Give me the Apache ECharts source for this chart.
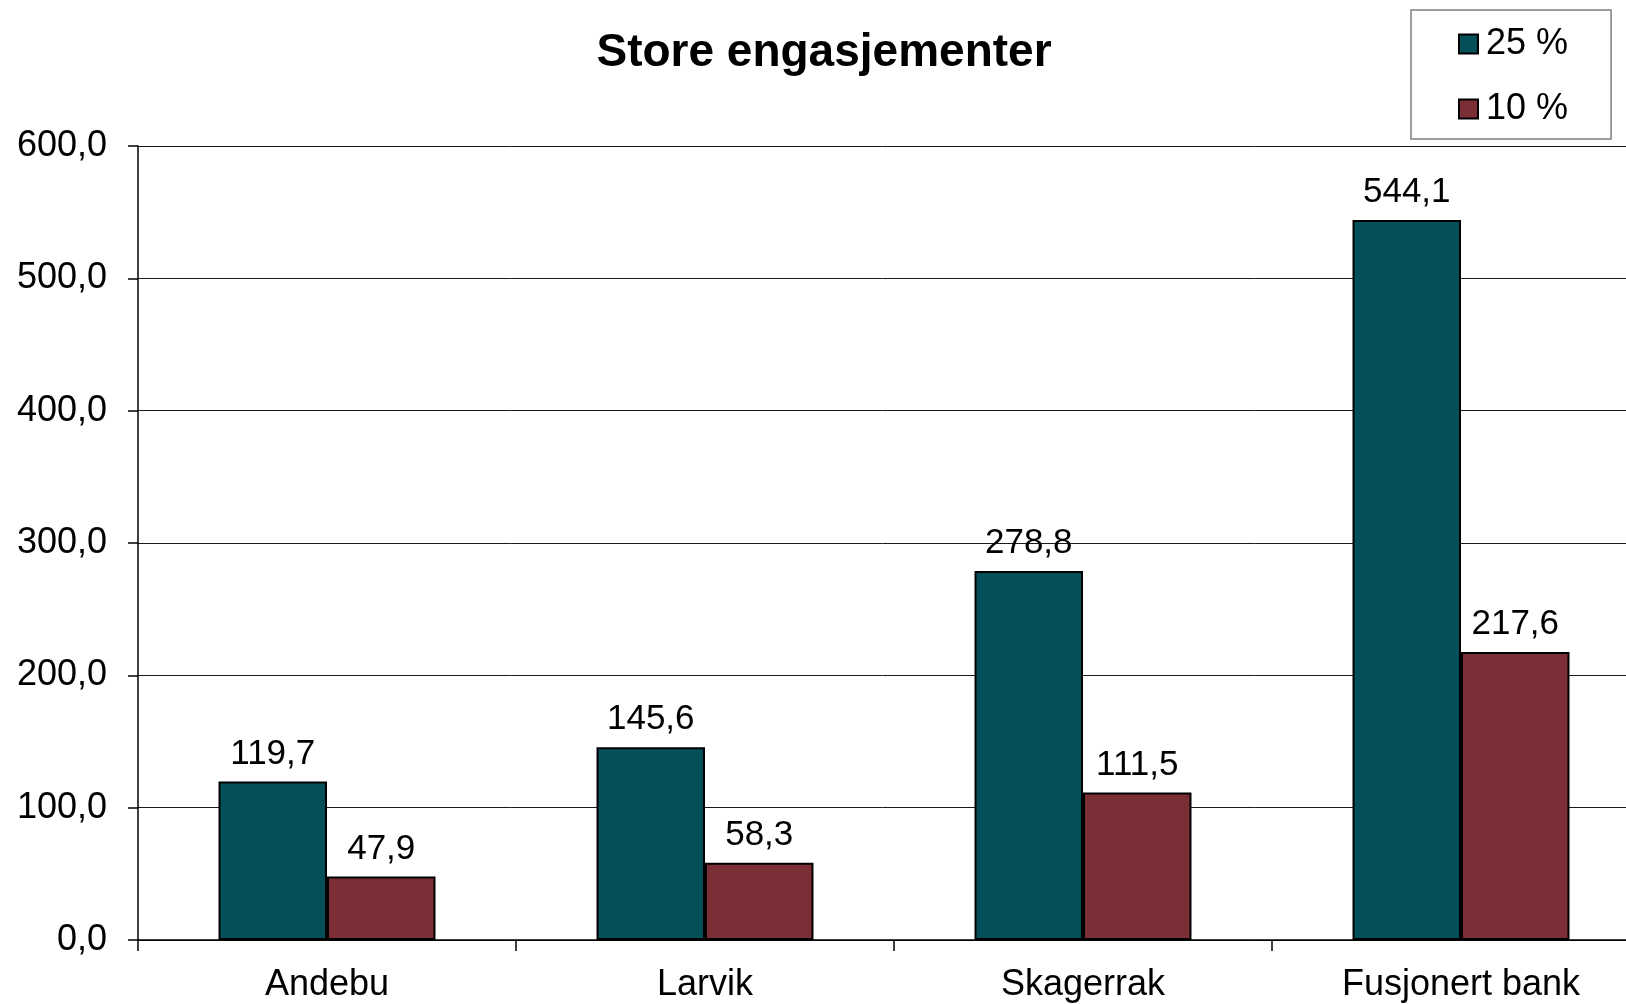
<!DOCTYPE html>
<html>
<head>
    <meta charset="utf-8">
    <title>Store engasjementer</title>
    <script src="https://cdn.jsdelivr.net/npm/echarts@6/dist/echarts.min.js"></script>
    <style>
        html, body { margin: 0; padding: 0; background: #fff; }
    </style>
</head>
<body>
<div id="main" style="width: 1626px;height:1004px;"></div>

<script type="text/javascript">
    // data
    var categories = ['Andebu', 'Larvik', 'Skagerrak', 'Fusjonert bank'];
    var seriesNames = ['25 %', '10 %'];
    var values25 = [119.7, 145.6, 278.8, 544.1];
    var values10 = [47.9, 58.3, 111.5, 217.6];
    var yTicks = [0, 100, 200, 300, 400, 500, 600];

    function komma(v) {
        return Number(v).toFixed(1).replace('.', ',');
    }

    var font = 'Liberation Sans, Arial, sans-serif';
    var myChart = echarts.init(document.getElementById('main'));

    var labelStyle = {
        show: true,
        position: 'top',
        distance: 10,
        color: '#000',
        fontSize: 35,
        fontFamily: font,
        formatter: function (p) { return komma(p.value); }
    };

    var option = {
        animation: false,
        backgroundColor: '#fff',
        title: {
            text: 'Store engasjementer',
            left: 819,
            textAlign: 'center',
            top: 25,
            textStyle: {
                fontSize: 46,
                fontWeight: 'bold',
                fontFamily: font,
                color: '#000'
            }
        },
        legend: {
            data: seriesNames,
            orient: 'vertical',
            left: 1411,
            top: 10,
            padding: [16, 43, 12, 47],
            itemWidth: 19,
            itemHeight: 19,
            itemGap: 29,
            icon: 'rect',
            borderColor: '#7f7f7f',
            borderWidth: 1.5,
            textStyle: {
                fontSize: 36,
                fontFamily: font,
                color: '#000',
                padding: [0, 0, 0, 3]
            }
        },
        // the plot runs past the right edge of the picture, as in the original
        grid: {
            left: 138,
            width: 1512,
            top: 146,
            bottom: 64,
            containLabel: false,
            outerBoundsMode: 'none'
        },
        xAxis: {
            type: 'category',
            data: categories,
            axisLine: { lineStyle: { color: '#000', width: 1.5 } },
            axisTick: { show: true, length: 11, lineStyle: { color: '#000', width: 1.5 } },
            axisLabel: {
                margin: 27,
                fontSize: 36,
                fontFamily: font,
                color: '#000'
            }
        },
        yAxis: {
            type: 'value',
            min: yTicks[0],
            max: yTicks[yTicks.length - 1],
            interval: 100,
            axisLine: { show: true, lineStyle: { color: '#000', width: 1.5 } },
            axisTick: { show: true, length: 10, lineStyle: { color: '#000', width: 1.5 } },
            splitLine: { show: true, lineStyle: { color: '#1a1a1a', width: 1 } },
            axisLabel: {
                margin: 31,
                fontSize: 36,
                fontFamily: font,
                color: '#000',
                formatter: komma
            }
        },
        series: [{
            name: seriesNames[0],
            type: 'bar',
            data: values25,
            barGap: '0%',
            barCategoryGap: '42.6%',
            itemStyle: { color: '#03505a', borderColor: '#000', borderWidth: 2 },
            label: labelStyle
        }, {
            name: seriesNames[1],
            type: 'bar',
            data: values10,
            barGap: '0%',
            barCategoryGap: '42.6%',
            itemStyle: { color: '#7b2e36', borderColor: '#000', borderWidth: 2 },
            label: labelStyle
        }]
    };

    myChart.setOption(option);
</script>
</body>
</html>
